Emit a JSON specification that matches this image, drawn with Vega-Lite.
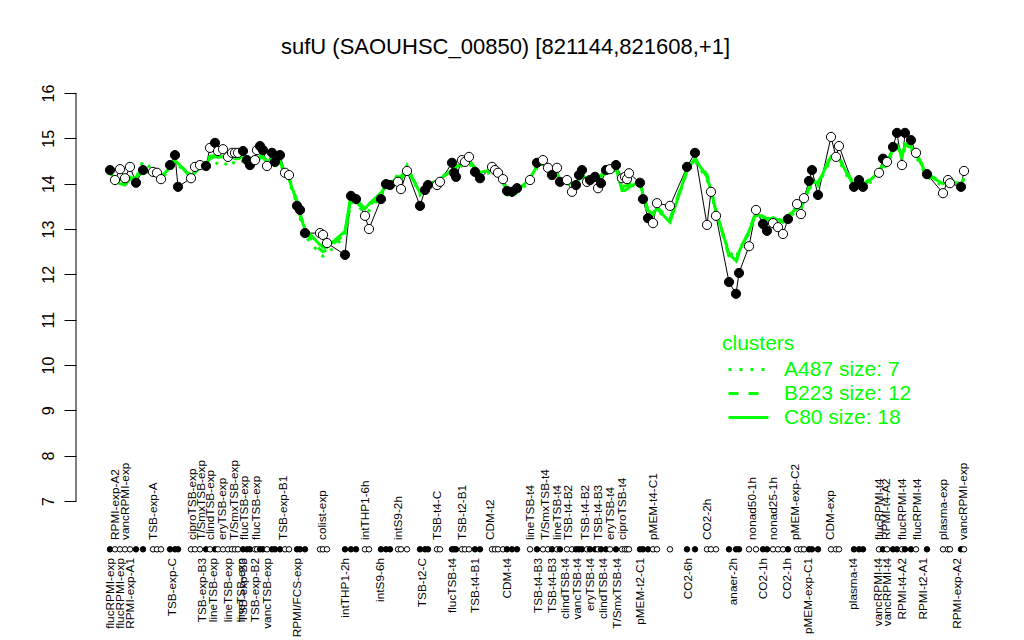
{
  "$schema": "https://vega.github.io/schema/vega-lite/v6.json",
  "autosize": {"type": "none"},
  "padding": {"left": 76, "top": 60, "right": 25, "bottom": 5},
  "width": 923,
  "height": 575,
  "background": "white",
  "title": {"text": "sufU (SAOUHSC_00850) [821144,821608,+1]", "fontSize": 22, "font": "Liberation Sans", "fontWeight": "normal", "color": "black", "anchor": "middle", "dx": -32, "offset": 1},
  "config": {"view": {"stroke": null}, "font": "Liberation Sans"},
  "datasets": {
    "pts": [
      {"x": 2, "v": 14.30, "f": 1, "A487": 14.22, "B223": 14.28, "C80": 14.25},
      {"x": 3, "v": 14.08, "f": 0, "A487": 14.15, "B223": 14.05, "C80": 14.10},
      {"x": 4, "v": 14.32, "f": 0, "A487": 14.10, "B223": 13.98, "C80": 14.00},
      {"x": 5, "v": 14.12, "f": 0, "A487": 14.05, "B223": 14.00, "C80": 13.97},
      {"x": 6, "v": 14.37, "f": 0, "A487": 14.15, "B223": 14.12, "C80": 14.10},
      {"x": 7.2, "v": 14.02, "f": 1, "A487": 14.12, "B223": 14.15, "C80": 14.15},
      {"x": 8.6, "v": 14.30, "f": 1, "A487": 14.50, "B223": 14.28, "C80": 14.25},
      {"x": 10.6, "v": 14.26, "f": 0, "A487": 14.30, "B223": 14.22, "C80": 14.25},
      {"x": 11.4, "v": 14.24, "f": 0, "A487": 14.20, "B223": 14.25, "C80": 14.22},
      {"x": 12.2, "v": 14.10, "f": 0, "A487": 14.12, "B223": 14.15, "C80": 14.15},
      {"x": 14, "v": 14.41, "f": 1, "A487": 14.30, "B223": 14.38, "C80": 14.35},
      {"x": 15, "v": 14.63, "f": 1, "A487": 14.45, "B223": 14.55, "C80": 14.50},
      {"x": 15.6, "v": 13.93, "f": 1, "A487": 14.40, "B223": 14.48, "C80": 14.45},
      {"x": 18.2, "v": 14.12, "f": 0, "A487": 14.20, "B223": 14.12, "C80": 14.15},
      {"x": 19, "v": 14.37, "f": 0, "A487": 14.30, "B223": 14.25, "C80": 14.25},
      {"x": 20, "v": 14.41, "f": 0, "A487": 14.35, "B223": 14.38, "C80": 14.35},
      {"x": 21.2, "v": 14.39, "f": 1, "A487": 14.40, "B223": 14.50, "C80": 14.45},
      {"x": 22, "v": 14.79, "f": 0, "A487": 14.45, "B223": 14.60, "C80": 14.55},
      {"x": 23, "v": 14.90, "f": 1, "A487": 14.50, "B223": 14.62, "C80": 14.60},
      {"x": 23.6, "v": 14.72, "f": 0, "A487": 14.42, "B223": 14.60, "C80": 14.58},
      {"x": 24.6, "v": 14.76, "f": 0, "A487": 14.48, "B223": 14.62, "C80": 14.60},
      {"x": 25.6, "v": 14.59, "f": 0, "A487": 14.40, "B223": 14.58, "C80": 14.55},
      {"x": 26.4, "v": 14.68, "f": 0, "A487": 14.50, "B223": 14.60, "C80": 14.60},
      {"x": 27, "v": 14.68, "f": 0, "A487": 14.42, "B223": 14.58, "C80": 14.55},
      {"x": 27.6, "v": 14.68, "f": 0, "A487": 14.48, "B223": 14.56, "C80": 14.55},
      {"x": 28.6, "v": 14.72, "f": 1, "A487": 14.50, "B223": 14.60, "C80": 14.60},
      {"x": 29.4, "v": 14.52, "f": 1, "A487": 14.40, "B223": 14.50, "C80": 14.50},
      {"x": 30, "v": 14.41, "f": 1, "A487": 14.38, "B223": 14.45, "C80": 14.45},
      {"x": 31, "v": 14.52, "f": 0, "A487": 14.45, "B223": 14.52, "C80": 14.50},
      {"x": 31.4, "v": 14.74, "f": 0, "A487": 14.50, "B223": 14.58, "C80": 14.55},
      {"x": 32, "v": 14.83, "f": 1, "A487": 14.55, "B223": 14.62, "C80": 14.60},
      {"x": 32.6, "v": 14.74, "f": 1, "A487": 14.50, "B223": 14.60, "C80": 14.58},
      {"x": 33.4, "v": 14.39, "f": 0, "A487": 14.40, "B223": 14.50, "C80": 14.48},
      {"x": 34.4, "v": 14.68, "f": 1, "A487": 14.50, "B223": 14.55, "C80": 14.55},
      {"x": 35, "v": 14.48, "f": 1, "A487": 14.40, "B223": 14.48, "C80": 14.48},
      {"x": 36, "v": 14.63, "f": 1, "A487": 14.45, "B223": 14.50, "C80": 14.48},
      {"x": 37, "v": 14.24, "f": 0, "A487": 14.20, "B223": 14.28, "C80": 14.25},
      {"x": 37.8, "v": 14.19, "f": 0, "A487": 14.05, "B223": 14.12, "C80": 14.10},
      {"x": 39.4, "v": 13.51, "f": 1, "A487": 13.55, "B223": 13.62, "C80": 13.60},
      {"x": 40, "v": 13.42, "f": 1, "A487": 13.25, "B223": 13.35, "C80": 13.30},
      {"x": 41, "v": 12.91, "f": 1, "A487": 12.85, "B223": 12.95, "C80": 13.00},
      {"x": 44, "v": 12.91, "f": 0, "A487": 12.45, "B223": 12.55, "C80": 12.65},
      {"x": 44.6, "v": 12.87, "f": 0, "A487": 12.40, "B223": 12.50, "C80": 12.60},
      {"x": 45.4, "v": 12.69, "f": 0, "A487": 12.45, "B223": 12.55, "C80": 12.60},
      {"x": 49, "v": 12.43, "f": 1, "A487": 12.85, "B223": 12.90, "C80": 12.95},
      {"x": 50.2, "v": 13.73, "f": 1, "A487": 13.60, "B223": 13.70, "C80": 13.75},
      {"x": 51.2, "v": 13.66, "f": 1, "A487": 13.55, "B223": 13.60, "C80": 13.65},
      {"x": 53, "v": 13.29, "f": 0, "A487": 13.35, "B223": 13.40, "C80": 13.45},
      {"x": 53.8, "v": 13.00, "f": 0, "A487": 13.40, "B223": 13.50, "C80": 13.55},
      {"x": 56.2, "v": 13.66, "f": 1, "A487": 13.75, "B223": 13.80, "C80": 13.80},
      {"x": 57.2, "v": 13.99, "f": 1, "A487": 13.90, "B223": 13.95, "C80": 13.95},
      {"x": 58, "v": 13.97, "f": 1, "A487": 14.00, "B223": 14.00, "C80": 14.00},
      {"x": 59.6, "v": 14.04, "f": 0, "A487": 14.20, "B223": 14.15, "C80": 14.15},
      {"x": 60.2, "v": 13.88, "f": 0, "A487": 14.10, "B223": 14.10, "C80": 14.15},
      {"x": 61.4, "v": 14.28, "f": 0, "A487": 14.40, "B223": 14.30, "C80": 14.35},
      {"x": 64, "v": 13.51, "f": 1, "A487": 13.75, "B223": 13.85, "C80": 13.80},
      {"x": 65, "v": 13.86, "f": 1, "A487": 13.85, "B223": 13.90, "C80": 13.90},
      {"x": 65.6, "v": 13.97, "f": 1, "A487": 13.95, "B223": 14.00, "C80": 14.00},
      {"x": 67.4, "v": 13.97, "f": 0, "A487": 14.00, "B223": 14.05, "C80": 14.05},
      {"x": 68, "v": 14.04, "f": 0, "A487": 14.10, "B223": 14.10, "C80": 14.10},
      {"x": 70.4, "v": 14.46, "f": 1, "A487": 14.35, "B223": 14.30, "C80": 14.30},
      {"x": 70.8, "v": 14.24, "f": 1, "A487": 14.30, "B223": 14.35, "C80": 14.35},
      {"x": 71.2, "v": 14.15, "f": 1, "A487": 14.30, "B223": 14.38, "C80": 14.35},
      {"x": 72.4, "v": 14.52, "f": 0, "A487": 14.40, "B223": 14.45, "C80": 14.45},
      {"x": 73, "v": 14.48, "f": 0, "A487": 14.45, "B223": 14.50, "C80": 14.50},
      {"x": 73.8, "v": 14.59, "f": 0, "A487": 14.45, "B223": 14.52, "C80": 14.50},
      {"x": 75, "v": 14.26, "f": 1, "A487": 14.30, "B223": 14.35, "C80": 14.35},
      {"x": 76, "v": 14.12, "f": 1, "A487": 14.20, "B223": 14.25, "C80": 14.25},
      {"x": 78.4, "v": 14.37, "f": 0, "A487": 14.25, "B223": 14.30, "C80": 14.30},
      {"x": 79, "v": 14.30, "f": 0, "A487": 14.25, "B223": 14.30, "C80": 14.30},
      {"x": 79.6, "v": 14.24, "f": 0, "A487": 14.20, "B223": 14.25, "C80": 14.25},
      {"x": 80.6, "v": 14.10, "f": 0, "A487": 14.05, "B223": 14.12, "C80": 14.10},
      {"x": 81.4, "v": 13.84, "f": 1, "A487": 13.75, "B223": 13.82, "C80": 13.80},
      {"x": 82.4, "v": 13.82, "f": 1, "A487": 13.70, "B223": 13.75, "C80": 13.75},
      {"x": 83.4, "v": 13.90, "f": 1, "A487": 13.80, "B223": 13.85, "C80": 13.85},
      {"x": 86, "v": 14.08, "f": 0, "A487": 14.05, "B223": 14.12, "C80": 14.10},
      {"x": 87.4, "v": 14.46, "f": 1, "A487": 14.35, "B223": 14.40, "C80": 14.40},
      {"x": 88.6, "v": 14.52, "f": 0, "A487": 14.40, "B223": 14.45, "C80": 14.45},
      {"x": 89.6, "v": 14.35, "f": 0, "A487": 14.30, "B223": 14.35, "C80": 14.35},
      {"x": 90.4, "v": 14.19, "f": 1, "A487": 14.10, "B223": 14.18, "C80": 14.15},
      {"x": 91.4, "v": 14.35, "f": 0, "A487": 14.15, "B223": 14.22, "C80": 14.20},
      {"x": 92, "v": 14.04, "f": 1, "A487": 14.05, "B223": 14.12, "C80": 14.10},
      {"x": 93.4, "v": 14.08, "f": 0, "A487": 14.00, "B223": 14.08, "C80": 14.05},
      {"x": 94.4, "v": 13.82, "f": 0, "A487": 13.95, "B223": 14.02, "C80": 14.00},
      {"x": 95.2, "v": 13.97, "f": 1, "A487": 13.95, "B223": 14.02, "C80": 14.00},
      {"x": 95.8, "v": 14.19, "f": 1, "A487": 14.05, "B223": 14.12, "C80": 14.10},
      {"x": 96.4, "v": 14.30, "f": 1, "A487": 14.10, "B223": 14.18, "C80": 14.15},
      {"x": 97.4, "v": 14.04, "f": 0, "A487": 14.05, "B223": 14.12, "C80": 14.10},
      {"x": 98, "v": 14.08, "f": 1, "A487": 14.05, "B223": 14.12, "C80": 14.10},
      {"x": 99, "v": 14.15, "f": 1, "A487": 14.10, "B223": 14.18, "C80": 14.15},
      {"x": 99.6, "v": 13.90, "f": 0, "A487": 14.05, "B223": 14.12, "C80": 14.10},
      {"x": 100.2, "v": 14.01, "f": 1, "A487": 14.10, "B223": 14.18, "C80": 14.15},
      {"x": 101.2, "v": 14.30, "f": 1, "A487": 14.25, "B223": 14.32, "C80": 14.30},
      {"x": 102, "v": 14.32, "f": 0, "A487": 14.25, "B223": 14.32, "C80": 14.30},
      {"x": 103.2, "v": 14.41, "f": 1, "A487": 14.30, "B223": 14.38, "C80": 14.35},
      {"x": 104.4, "v": 14.12, "f": 0, "A487": 13.90, "B223": 13.95, "C80": 13.85},
      {"x": 105, "v": 14.15, "f": 0, "A487": 13.88, "B223": 13.95, "C80": 13.85},
      {"x": 105.4, "v": 14.10, "f": 0, "A487": 13.90, "B223": 13.95, "C80": 13.88},
      {"x": 105.8, "v": 14.23, "f": 0, "A487": 13.95, "B223": 14.00, "C80": 13.92},
      {"x": 108, "v": 14.02, "f": 1, "A487": 14.00, "B223": 14.08, "C80": 14.05},
      {"x": 108.6, "v": 13.66, "f": 1, "A487": 13.70, "B223": 13.78, "C80": 13.75},
      {"x": 109.6, "v": 13.24, "f": 1, "A487": 13.35, "B223": 13.42, "C80": 13.40},
      {"x": 110.6, "v": 13.13, "f": 0, "A487": 13.30, "B223": 13.38, "C80": 13.35},
      {"x": 111.4, "v": 13.57, "f": 0, "A487": 13.40, "B223": 13.48, "C80": 13.45},
      {"x": 114, "v": 13.51, "f": 0, "A487": 13.20, "B223": 13.22, "C80": 13.15},
      {"x": 117.4, "v": 14.37, "f": 1, "A487": 14.25, "B223": 14.30, "C80": 14.30},
      {"x": 119, "v": 14.68, "f": 1, "A487": 14.50, "B223": 14.55, "C80": 14.55},
      {"x": 121.4, "v": 13.09, "f": 0, "A487": 14.10, "B223": 14.20, "C80": 14.15},
      {"x": 122.2, "v": 13.82, "f": 0, "A487": 13.80, "B223": 13.88, "C80": 13.85},
      {"x": 123.2, "v": 13.29, "f": 0, "A487": 13.35, "B223": 13.42, "C80": 13.40},
      {"x": 125.8, "v": 11.83, "f": 1, "A487": 12.50, "B223": 12.40, "C80": 12.45},
      {"x": 127.2, "v": 11.57, "f": 1, "A487": 12.35, "B223": 12.25, "C80": 12.30},
      {"x": 127.8, "v": 12.03, "f": 1, "A487": 12.55, "B223": 12.48, "C80": 12.50},
      {"x": 129.8, "v": 12.62, "f": 0, "A487": 12.90, "B223": 12.95, "C80": 12.95},
      {"x": 131.2, "v": 13.42, "f": 0, "A487": 13.30, "B223": 13.38, "C80": 13.35},
      {"x": 132.6, "v": 13.11, "f": 1, "A487": 13.22, "B223": 13.28, "C80": 13.25},
      {"x": 133.4, "v": 12.96, "f": 1, "A487": 13.15, "B223": 13.22, "C80": 13.20},
      {"x": 134.6, "v": 13.13, "f": 0, "A487": 13.20, "B223": 13.28, "C80": 13.25},
      {"x": 135.6, "v": 13.04, "f": 0, "A487": 13.15, "B223": 13.22, "C80": 13.20},
      {"x": 136.6, "v": 12.89, "f": 0, "A487": 13.10, "B223": 13.18, "C80": 13.15},
      {"x": 137.6, "v": 13.22, "f": 1, "A487": 13.25, "B223": 13.32, "C80": 13.30},
      {"x": 139.4, "v": 13.55, "f": 0, "A487": 13.40, "B223": 13.48, "C80": 13.45},
      {"x": 140.2, "v": 13.33, "f": 0, "A487": 13.45, "B223": 13.52, "C80": 13.50},
      {"x": 140.8, "v": 13.68, "f": 0, "A487": 13.55, "B223": 13.62, "C80": 13.60},
      {"x": 141.8, "v": 14.06, "f": 1, "A487": 13.85, "B223": 13.92, "C80": 13.90},
      {"x": 142.4, "v": 14.30, "f": 1, "A487": 14.00, "B223": 14.08, "C80": 14.05},
      {"x": 143.6, "v": 13.75, "f": 1, "A487": 13.95, "B223": 14.02, "C80": 14.00},
      {"x": 146.2, "v": 15.03, "f": 0, "A487": 14.55, "B223": 14.62, "C80": 14.60},
      {"x": 147.2, "v": 14.59, "f": 0, "A487": 14.55, "B223": 14.62, "C80": 14.60},
      {"x": 147.8, "v": 14.83, "f": 0, "A487": 14.50, "B223": 14.58, "C80": 14.55},
      {"x": 150.8, "v": 13.93, "f": 1, "A487": 13.90, "B223": 13.98, "C80": 13.95},
      {"x": 151.8, "v": 14.08, "f": 1, "A487": 13.90, "B223": 13.98, "C80": 13.95},
      {"x": 152.6, "v": 13.93, "f": 1, "A487": 13.90, "B223": 13.98, "C80": 13.95},
      {"x": 155.8, "v": 14.24, "f": 0, "A487": 14.20, "B223": 14.28, "C80": 14.25},
      {"x": 156.6, "v": 14.55, "f": 1, "A487": 14.35, "B223": 14.42, "C80": 14.40},
      {"x": 157.4, "v": 14.48, "f": 0, "A487": 14.40, "B223": 14.48, "C80": 14.45},
      {"x": 158.6, "v": 14.81, "f": 1, "A487": 14.70, "B223": 14.78, "C80": 14.75},
      {"x": 159.4, "v": 15.12, "f": 1, "A487": 14.80, "B223": 14.88, "C80": 14.85},
      {"x": 160.4, "v": 14.41, "f": 0, "A487": 14.55, "B223": 14.62, "C80": 14.60},
      {"x": 161, "v": 15.12, "f": 1, "A487": 14.80, "B223": 14.88, "C80": 14.85},
      {"x": 162.2, "v": 14.96, "f": 1, "A487": 14.75, "B223": 14.82, "C80": 14.80},
      {"x": 163.2, "v": 14.68, "f": 0, "A487": 14.60, "B223": 14.68, "C80": 14.65},
      {"x": 165.4, "v": 14.21, "f": 1, "A487": 14.15, "B223": 14.22, "C80": 14.20},
      {"x": 168.6, "v": 13.79, "f": 0, "A487": 13.95, "B223": 14.02, "C80": 14.00},
      {"x": 169.6, "v": 14.08, "f": 0, "A487": 14.00, "B223": 14.08, "C80": 14.05},
      {"x": 170, "v": 14.01, "f": 0, "A487": 14.00, "B223": 14.08, "C80": 14.05},
      {"x": 172.2, "v": 13.93, "f": 1, "A487": 13.95, "B223": 14.02, "C80": 14.00},
      {"x": 172.8, "v": 14.28, "f": 0, "A487": 14.05, "B223": 14.12, "C80": 14.10}
    ],
    "labs": [
      {"x": 3, "label": "RPMI-exp-A2", "side": "t"},
      {"x": 5, "label": "vancRPMI-exp", "side": "t"},
      {"x": 10.6, "label": "TSB-exp-A", "side": "t"},
      {"x": 18.4, "label": "ciproTSB-exp", "side": "t"},
      {"x": 20.2, "label": "T/SmxTSB-exp", "side": "t"},
      {"x": 22, "label": "clindTSB-exp", "side": "t"},
      {"x": 24.4, "label": "eryTSB-exp", "side": "t"},
      {"x": 26.8, "label": "T/SmxTSB-exp", "side": "t"},
      {"x": 28.8, "label": "flucTSB-exp", "side": "t"},
      {"x": 31.2, "label": "flucTSB-exp", "side": "t"},
      {"x": 36.6, "label": "TSB-exp-B1", "side": "t"},
      {"x": 44.4, "label": "colist-exp", "side": "t"},
      {"x": 53, "label": "intTHP1-6h", "side": "t"},
      {"x": 59.6, "label": "intS9-2h", "side": "t"},
      {"x": 67.4, "label": "TSB-t4-C", "side": "t"},
      {"x": 72.4, "label": "TSB-t2-B1", "side": "t"},
      {"x": 78, "label": "CDM-t2", "side": "t"},
      {"x": 86, "label": "lineTSB-t4", "side": "t"},
      {"x": 89, "label": "T/SmxTSB-t4", "side": "t"},
      {"x": 91.4, "label": "lineTSB-t4", "side": "t"},
      {"x": 93.6, "label": "TSB-t4-B2", "side": "t"},
      {"x": 97, "label": "TSB-t4-B2", "side": "t"},
      {"x": 99.6, "label": "TSB-t4-B3", "side": "t"},
      {"x": 102, "label": "eryTSB-t4", "side": "t"},
      {"x": 104.4, "label": "ciproTSB-t4", "side": "t"},
      {"x": 110.6, "label": "pMEM-t4-C1", "side": "t"},
      {"x": 121.4, "label": "CO2-2h", "side": "t"},
      {"x": 130.4, "label": "nonad50-1h", "side": "t"},
      {"x": 134.6, "label": "nonad25-1h", "side": "t"},
      {"x": 139, "label": "pMEM-exp-C2", "side": "t"},
      {"x": 146, "label": "CDM-exp", "side": "t"},
      {"x": 155.8, "label": "flucRPMI-t4", "side": "t"},
      {"x": 157.2, "label": "RPMI-t4-A2", "side": "t"},
      {"x": 160.4, "label": "flucRPMI-t4", "side": "t"},
      {"x": 163.4, "label": "flucRPMI-t4", "side": "t"},
      {"x": 168.6, "label": "plasma-exp", "side": "t"},
      {"x": 172.6, "label": "vancRPMI-exp", "side": "t"},
      {"x": 2, "label": "flucRPMI-exp", "side": "b"},
      {"x": 4, "label": "flucRPMI-exp", "side": "b"},
      {"x": 6, "label": "RPMI-exp-A1", "side": "b"},
      {"x": 14.4, "label": "TSB-exp-C", "side": "b"},
      {"x": 20.4, "label": "TSB-exp-B3", "side": "b"},
      {"x": 22.6, "label": "lineTSB-exp", "side": "b"},
      {"x": 25.6, "label": "lineTSB-exp", "side": "b"},
      {"x": 28.2, "label": "lineTSB-exp", "side": "b"},
      {"x": 28.6, "label": "TSB-exp-B3", "side": "b"},
      {"x": 31, "label": "TSB-exp-B2", "side": "b"},
      {"x": 33.4, "label": "vancTSB-exp", "side": "b"},
      {"x": 39.4, "label": "RPMI/FCS-exp", "side": "b"},
      {"x": 49, "label": "intTHP1-2h", "side": "b"},
      {"x": 56, "label": "intS9-6h", "side": "b"},
      {"x": 64.4, "label": "TSB-t2-C", "side": "b"},
      {"x": 70.4, "label": "flucTSB-t4", "side": "b"},
      {"x": 75, "label": "TSB-t4-B1", "side": "b"},
      {"x": 81.4, "label": "CDM-t4", "side": "b"},
      {"x": 87.6, "label": "TSB-t4-B3", "side": "b"},
      {"x": 90.4, "label": "TSB-t4-B3", "side": "b"},
      {"x": 93, "label": "clindTSB-t4", "side": "b"},
      {"x": 95.4, "label": "vancTSB-t4", "side": "b"},
      {"x": 98, "label": "eryTSB-t4", "side": "b"},
      {"x": 100.6, "label": "clindTSB-t4", "side": "b"},
      {"x": 103.4, "label": "T/SmxTSB-t4", "side": "b"},
      {"x": 108, "label": "pMEM-t2-C1", "side": "b"},
      {"x": 117.6, "label": "CO2-6h", "side": "b"},
      {"x": 126.6, "label": "anaer-2h", "side": "b"},
      {"x": 132.6, "label": "CO2-1h", "side": "b"},
      {"x": 137.4, "label": "CO2-1h", "side": "b"},
      {"x": 141.6, "label": "pMEM-exp-C1", "side": "b"},
      {"x": 150.6, "label": "plasma-t4", "side": "b"},
      {"x": 155.6, "label": "vancRPMI-t4", "side": "b"},
      {"x": 157.4, "label": "vancRPMI-t4", "side": "b"},
      {"x": 160.4, "label": "RPMI-t4-A2", "side": "b"},
      {"x": 164.6, "label": "RPMI-t2-A1", "side": "b"},
      {"x": 171.4, "label": "RPMI-exp-A2", "side": "b"}
    ]
  },
  "layer": [
    {
      "data": {"values": [{"lo": 7, "hi": 16}]},
      "mark": {"type": "rule", "color": "black", "strokeWidth": 1},
      "encoding": {
        "x": {"datum": -4.8, "type": "quantitative", "scale": {"domain": [-4.8, 179.8], "nice": false, "zero": false}, "axis": null},
        "y": {"field": "lo", "type": "quantitative", "scale": {"domain": [4.044, 16.728], "nice": false, "zero": false},
              "axis": {"values": [7, 8, 9, 10, 11, 12, 13, 14, 15, 16], "domain": false, "grid": false, "title": null, "tickSize": 12, "tickColor": "black", "tickWidth": 1, "labelAngle": 270, "labelAlign": "center", "labelBaseline": "bottom", "labelFontSize": 16, "labelFont": "Liberation Sans", "labelColor": "black", "labelPadding": 8, "labelOverlap": false}},
        "y2": {"field": "hi"}
      }
    },
    {
      "data": {"name": "pts"},
      "mark": {"type": "line", "color": "black", "strokeWidth": 1},
      "encoding": {
        "x": {"field": "x", "type": "quantitative", "scale": {"domain": [-4.8, 179.8], "nice": false, "zero": false}, "axis": null},
        "y": {"field": "v", "type": "quantitative", "scale": {"domain": [4.044, 16.728], "nice": false, "zero": false}}
      }
    },
    {
      "data": {"name": "pts"},
      "transform": [{"fold": ["A487", "B223", "C80"], "as": ["cluster", "gv"]}],
      "mark": {"type": "line", "color": "#00FF00", "strokeWidth": 3},
      "encoding": {
        "x": {"field": "x", "type": "quantitative", "scale": {"domain": [-4.8, 179.8], "nice": false, "zero": false}, "axis": null},
        "y": {"field": "gv", "type": "quantitative", "scale": {"domain": [4.044, 16.728], "nice": false, "zero": false}},
        "strokeDash": {"field": "cluster", "type": "nominal",
          "scale": {"domain": ["A487", "B223", "C80"], "range": [[3, 8], [10, 10], [1, 0]]},
          "legend": {"orient": "none", "legendX": 646, "legendY": 273, "title": "clusters", "titleColor": "#00FF00", "titleFontSize": 21, "titleFontWeight": "normal", "titleFont": "Liberation Sans", "titlePadding": 4, "labelColor": "#00FF00", "labelFontSize": 21, "labelFont": "Liberation Sans", "symbolType": "M-2,0H2", "symbolStrokeColor": "#00FF00", "symbolStrokeWidth": 3, "symbolSize": 400, "symbolOffset": 15, "labelOffset": 24, "rowPadding": 2, "padding": 0,
            "labelExpr": "datum.label == 'A487' ? 'A487 size: 7' : datum.label == 'B223' ? 'B223 size: 12' : 'C80 size: 18'"}}
      }
    },
    {
      "data": {"name": "pts"},
      "mark": {"type": "point", "shape": "circle", "size": 85, "stroke": "black", "strokeWidth": 1, "opacity": 1, "filled": false},
      "encoding": {
        "x": {"field": "x", "type": "quantitative", "scale": {"domain": [-4.8, 179.8], "nice": false, "zero": false}, "axis": null},
        "y": {"field": "v", "type": "quantitative", "scale": {"domain": [4.044, 16.728], "nice": false, "zero": false}},
        "fill": {"field": "f", "type": "nominal", "scale": {"domain": [0, 1], "range": ["white", "black"]}, "legend": null}
      }
    },
    {
      "data": {"name": "pts"},
      "mark": {"type": "point", "shape": "circle", "size": 30, "stroke": "black", "strokeWidth": 1, "opacity": 1, "filled": false},
      "encoding": {
        "x": {"field": "x", "type": "quantitative", "scale": {"domain": [-4.8, 179.8], "nice": false, "zero": false}, "axis": null},
        "y": {"datum": 5.934, "type": "quantitative", "scale": {"domain": [4.044, 16.728], "nice": false, "zero": false}},
        "fill": {"field": "f", "type": "nominal", "scale": {"domain": [0, 1], "range": ["white", "black"]}, "legend": null}
      }
    },
    {
      "data": {"name": "labs"},
      "transform": [{"filter": "datum.side == 't'"}],
      "mark": {"type": "text", "angle": 270, "align": "left", "baseline": "middle", "fontSize": 11.8, "font": "Liberation Sans", "color": "black"},
      "encoding": {
        "x": {"field": "x", "type": "quantitative", "scale": {"domain": [-4.8, 179.8], "nice": false, "zero": false}, "axis": null},
        "y": {"datum": 6.14, "type": "quantitative", "scale": {"domain": [4.044, 16.728], "nice": false, "zero": false}},
        "text": {"field": "label"}
      }
    },
    {
      "data": {"name": "labs"},
      "transform": [{"filter": "datum.side == 'b'"}],
      "mark": {"type": "text", "angle": 270, "align": "right", "baseline": "middle", "fontSize": 11.8, "font": "Liberation Sans", "color": "black"},
      "encoding": {
        "x": {"field": "x", "type": "quantitative", "scale": {"domain": [-4.8, 179.8], "nice": false, "zero": false}, "axis": null},
        "y": {"datum": 5.743, "type": "quantitative", "scale": {"domain": [4.044, 16.728], "nice": false, "zero": false}},
        "text": {"field": "label"}
      }
    }
  ]
}
